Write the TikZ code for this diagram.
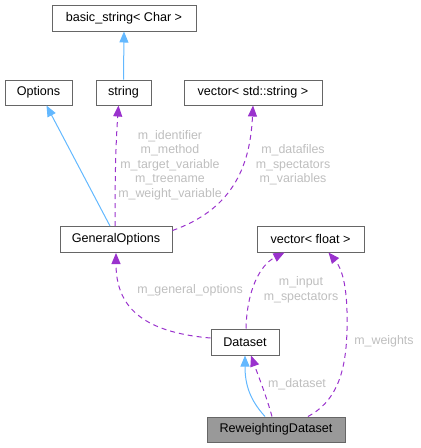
\documentclass[tikz,border=0pt]{standalone}
\usepackage{fontspec}
\setmainfont{Liberation Sans}
\usetikzlibrary{arrows.meta,calc}
\definecolor{boxline}{HTML}{666666}
\definecolor{inh}{HTML}{63B8FF}
\definecolor{usage}{HTML}{9A32CD}
\definecolor{lbl}{HTML}{BEBEBE}
\definecolor{hilite}{HTML}{999999}
\tikzset{
  cls/.style={draw=boxline, line width=1pt, fill=white, inner sep=0pt, font=\fontsize{12.6}{14}\selectfont, text=black},
  inhedge/.style={draw=inh, line width=1pt, -{Triangle[length=11pt,width=9pt]}},
  useedge/.style={draw=usage, line width=1pt, dash pattern=on 5pt off 4pt, -{Triangle[length=11pt,width=9pt]}},
  elabel/.style={text=lbl, font=\fontsize{12.4}{14.6}\selectfont, align=center, inner sep=0pt}
}
\begin{document}
\begin{tikzpicture}[x=1pt,y=-1pt]
\useasboundingbox (0,0) rectangle (421,448);
\node[cls, minimum width=144pt, minimum height=26pt] (bs) at (124,18) {basic\_string< Char >};
\node[cls, minimum width=67pt, minimum height=25pt] (opt) at (38.5,92.5) {Options};
\node[cls, minimum width=55pt, minimum height=25pt] (str) at (123.5,92.5) {string};
\node[cls, minimum width=138pt, minimum height=25pt] (vs) at (253,92.5) {vector< std::string >};
\node[cls, minimum width=112pt, minimum height=26pt] (go) at (116,239.5) {GeneralOptions};
\node[cls, minimum width=107pt, minimum height=26pt] (vf) at (310.5,239) {vector< float >};
\node[cls, minimum width=68pt, minimum height=26pt] (ds) at (245,342) {Dataset};
\node[cls, fill=hilite, minimum width=138pt, minimum height=25pt] (rd) at (276,429.5) {ReweightingDataset};

% inheritance
\draw[inhedge] (str.north) -- (bs.south);
\draw[inhedge] ([xshift=-6pt]go.north) -- ([xshift=8pt]opt.south);
\draw[inhedge] ([xshift=-11pt]rd.north) .. controls (250,400) and (245,385) .. ([xshift=0pt]ds.south);

% usage
\draw[useedge] ([xshift=-1pt]go.north) .. controls (115,170) and (116,140) .. ([xshift=-5pt]str.south);
\draw[useedge] ([yshift=9pt]go.east) .. controls (230,210) and (250,170) .. (vs.south);
\draw[useedge] ([yshift=4pt]ds.west) .. controls (140,332) and (116,305) .. (go.south);
\draw[useedge] ([xshift=1pt]ds.north) .. controls (247,290) and (260,265) .. ([xshift=-26pt]vf.south);
\draw[useedge] ([xshift=32pt]rd.north) .. controls (335,402) and (346,375) .. (347,330) .. controls (348,290) and (343,270) .. ([xshift=18pt]vf.south);
\draw[useedge] ([xshift=-4pt]rd.north) .. controls (266,395) and (258,375) .. ([xshift=6pt]ds.south);

% labels
\node[elabel] (l1) at (170,165) {m\_identifier\\m\_method\\m\_target\_variable\\m\_treename\\m\_weight\_variable};
\node[elabel] (l2) at (293,165) {m\_datafiles\\m\_spectators\\m\_variables};
\node[elabel] (l3) at (190,290) {m\_general\_options};
\node[elabel] (l4) at (301,289.5) {m\_input\\m\_spectators};
\node[elabel] (l5) at (384,341) {m\_weights};
\node[elabel] (l6) at (297,384) {m\_dataset};
\end{tikzpicture}
\end{document}
